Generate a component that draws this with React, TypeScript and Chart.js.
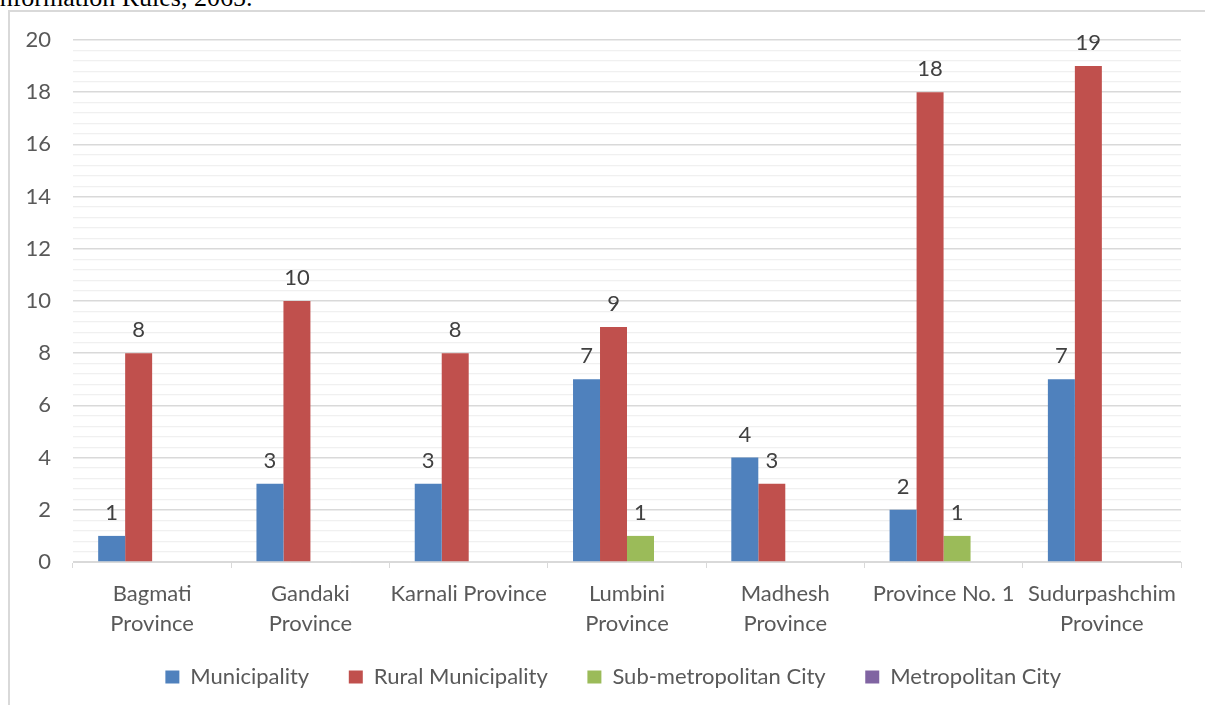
import React, { useEffect, useRef } from "react";
import { Chart, registerables } from "chart.js";

Chart.register(...registerables);

const categories: string[][] = [
  ["Bagmati", "Province"],
  ["Gandaki", "Province"],
  ["Karnali Province"],
  ["Lumbini", "Province"],
  ["Madhesh", "Province"],
  ["Province No. 1"],
  ["Sudurpashchim", "Province"],
];
const municipality = [1, 3, 3, 7, 4, 2, 7];
const ruralMunicipality = [8, 10, 8, 9, 3, 18, 19];
const subMetropolitan = [0, 0, 0, 1, 0, 1, 0];
const metropolitan = [0, 0, 0, 0, 0, 0, 0];
const seriesNames = ["Municipality", "Rural Municipality", "Sub-metropolitan City", "Metropolitan City"];
const seriesColors = ["#4f81bd", "#c0504d", "#9bbb59", "#8064a2"];

const FONT = "Lato, 'Open Sans', sans-serif";
const GAP = "\u00A0\u00A0\u00A0\u00A0\u00A0";

const isMajor = (v: number) => Math.abs(v / 2 - Math.round(v / 2)) < 1e-6;

const dataLabels = {
  id: "dataLabels",
  afterDatasetsDraw(chart: any) {
    const ctx = chart.ctx;
    ctx.save();
    ctx.font = `22px ${FONT}`;
    ctx.fillStyle = "#404040";
    ctx.textAlign = "center";
    ctx.textBaseline = "alphabetic";
    chart.data.datasets.forEach((ds: any, i: number) => {
      const meta = chart.getDatasetMeta(i);
      meta.data.forEach((bar: any, j: number) => {
        const v = ds.data[j];
        if (!v) return;
        ctx.fillText(String(v), bar.x, bar.y - 16);
      });
    });
    ctx.restore();
  },
};

export default function App() {
  const ref = useRef<HTMLCanvasElement>(null);
  useEffect(() => {
    document.body.style.margin = "0";
    const data = [municipality, ruralMunicipality, subMetropolitan, metropolitan];
    const chart = new Chart(ref.current!, {
      type: "bar",
      data: {
        labels: categories,
        datasets: data.map((d, i) => ({
          label: seriesNames[i],
          data: d,
          backgroundColor: seriesColors[i],
          borderWidth: 0,
          categoryPercentage: 0.682,
          barPercentage: 1,
        })),
      },
      options: {
        animation: false,
        responsive: false,
        maintainAspectRatio: false,
        layout: { padding: { left: 10, top: 40, right: 24, bottom: 7 } },
        plugins: {
          tooltip: { enabled: false },
          legend: {
            position: "bottom",
            fullSize: false,
            labels: {
              boxWidth: 14,
              boxHeight: 13,
              padding: 12,
              color: "#595959",
              font: { family: FONT, size: 22 },
              generateLabels: (c: any) =>
                c.data.datasets.map((ds: any, i: number) => ({
                  text: ds.label + GAP,
                  fillStyle: ds.backgroundColor,
                  strokeStyle: ds.backgroundColor,
                  lineWidth: 0,
                  fontColor: "#595959",
                  hidden: false,
                  datasetIndex: i,
                })),
            },
          },
        },
        scales: {
          x: {
            offset: true,
            grid: {
              offset: true,
              drawOnChartArea: false,
              color: "#d9d9d9",
              tickLength: 6,
            },
            border: { color: "#d9d9d9", width: 1 },
            ticks: {
              color: "#595959",
              font: { family: FONT, size: 22, lineHeight: 1.36 },
              maxRotation: 0,
              autoSkip: false,
              padding: 11,
            },
            afterFit(scale: any) {
              scale.height = 92;
            },
          },
          y: {
            min: 0,
            max: 20,
            ticks: {
              stepSize: 0.4,
              autoSkip: false,
              color: "#595959",
              font: { family: FONT, size: 22 },
              padding: 22,
              callback: (v: any) => (isMajor(Number(v)) ? String(Math.round(Number(v))) : ""),
            },
            grid: {
              drawTicks: false,
              color: (c: any) => (isMajor(c.tick.value) ? "#d9d9d9" : "#f0f0f0"),
              lineWidth: (c: any) => (isMajor(c.tick.value) ? 1.5 : 1.2),
            },
            border: { display: false },
            afterFit(scale: any) {
              scale.width = 63;
            },
          },
        },
      },
      plugins: [dataLabels],
    });
    return () => chart.destroy();
  }, []);

  return (
    <div style={{ position: "relative", width: 1205, height: 705, overflow: "hidden", background: "#fff" }}>
      <div
        style={{
          position: "absolute",
          left: -9,
          top: -17,
          fontFamily: "'Liberation Serif', 'DejaVu Serif', serif",
          fontSize: 26,
          color: "#000",
          whiteSpace: "nowrap",
        }}
      >
        Information Rules, 2065.
      </div>
      <div
        style={{
          position: "absolute",
          left: 8,
          top: 10,
          width: 1400,
          height: 900,
          border: "2px solid #d9d9d9",
          boxSizing: "border-box",
        }}
      />
      <canvas ref={ref} width={1205} height={705} style={{ position: "absolute", left: 0, top: 0 }} />
    </div>
  );
}
